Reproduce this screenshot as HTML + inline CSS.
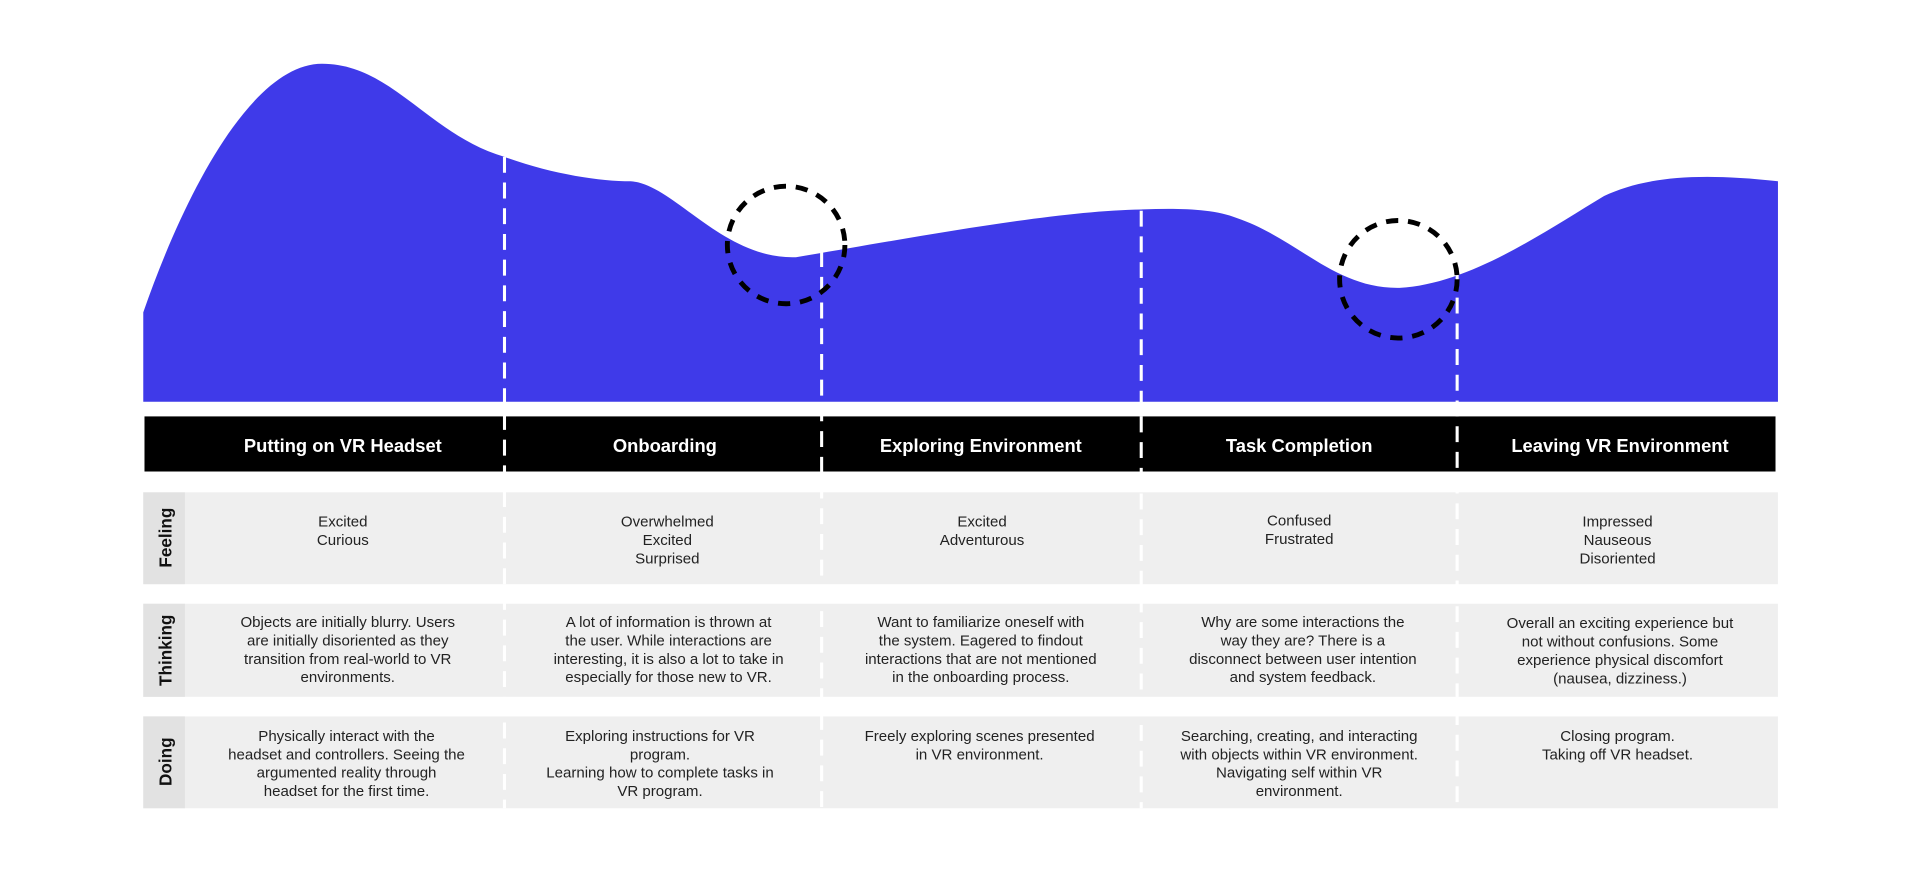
<!DOCTYPE html>
<html><head><meta charset="utf-8"><style>html,body{margin:0;padding:0;background:#fff;}svg{display:block}</style></head>
<body>
<svg width="1920" height="872" viewBox="0 0 1568 712" xmlns="http://www.w3.org/2000/svg" font-family="Liberation Sans, sans-serif">
<path d="M117,255 C150,160 205,52 263,52 C320,52 350,110 412,128 C450,142 490,148 515,148 C550,150 590,212 650,210 C740,195 860,172 932,171 C960,170 990,170 1010,178 C1060,195 1090,236 1143,235 C1200,232 1260,190 1310,160 C1340,146 1380,140 1452,148 L1452,328 L117,328 Z" fill="#3f3ae9"/>
<rect x="118" y="340" width="1332" height="45" fill="#000"/>
<g fill="#efefef">
<rect x="117" y="402" width="1335" height="75"/>
<rect x="117" y="493" width="1335" height="76"/>
<rect x="117" y="585" width="1335" height="75"/>
</g>
<g fill="#e2e2e2">
<rect x="117" y="402" width="34" height="75"/>
<rect x="117" y="493" width="34" height="76"/>
<rect x="117" y="585" width="34" height="75"/>
</g>
<g stroke="#fff" stroke-width="2.5" stroke-dasharray="13 8">
<line x1="412" y1="128" x2="412" y2="660"/>
<line x1="671" y1="205" x2="671" y2="660"/>
<line x1="932" y1="172" x2="932" y2="660"/>
<line x1="1190" y1="222" x2="1190" y2="660"/>
</g>
<g fill="none" stroke="#000" stroke-width="4" stroke-dasharray="10 8">
<circle cx="642" cy="200" r="48"/>
<circle cx="1142" cy="228" r="48"/>
</g>
<g fill="#fff" font-weight="bold" font-size="15" text-anchor="middle">
<text x="280" y="369">Putting on VR Headset</text>
<text x="543" y="369">Onboarding</text>
<text x="801" y="369">Exploring Environment</text>
<text x="1061" y="369">Task Completion</text>
<text x="1323" y="369">Leaving VR Environment</text>
</g>
<g fill="#111" font-weight="bold" font-size="14" text-anchor="middle">
<text transform="translate(140,439) rotate(-90)">Feeling</text>
<text transform="translate(140,531) rotate(-90)">Thinking</text>
<text transform="translate(140,622) rotate(-90)">Doing</text>
</g>
<g fill="#222" font-size="12.3" text-anchor="middle">
<text x="280" y="430">Excited</text><text x="280" y="445">Curious</text>
<text x="545" y="430">Overwhelmed</text><text x="545" y="445">Excited</text><text x="545" y="460">Surprised</text>
<text x="802" y="430">Excited</text><text x="802" y="445">Adventurous</text>
<text x="1061" y="429">Confused</text><text x="1061" y="444">Frustrated</text>
<text x="1321" y="430">Impressed</text><text x="1321" y="445">Nauseous</text><text x="1321" y="460">Disoriented</text>

<text x="284" y="512">Objects are initially blurry. Users</text>
<text x="284" y="527">are initially disoriented as they</text>
<text x="284" y="542">transition from real-world to VR</text>
<text x="284" y="557">environments.</text>
<text x="546" y="512">A lot of information is thrown at</text>
<text x="546" y="527">the user. While interactions are</text>
<text x="546" y="542">interesting, it is also a lot to take in</text>
<text x="546" y="557">especially for those new to VR.</text>
<text x="801" y="512">Want to familiarize oneself with</text>
<text x="801" y="527">the system. Eagered to findout</text>
<text x="801" y="542">interactions that are not mentioned</text>
<text x="801" y="557">in the onboarding process.</text>
<text x="1064" y="512">Why are some interactions the</text>
<text x="1064" y="527">way they are? There is a</text>
<text x="1064" y="542">disconnect between user intention</text>
<text x="1064" y="557">and system feedback.</text>
<text x="1323" y="513">Overall an exciting experience but</text>
<text x="1323" y="528">not without confusions. Some</text>
<text x="1323" y="543">experience physical discomfort</text>
<text x="1323" y="558">(nausea, dizziness.)</text>

<text x="283" y="605">Physically interact with the</text>
<text x="283" y="620">headset and controllers. Seeing the</text>
<text x="283" y="635">argumented reality through</text>
<text x="283" y="650">headset for the first time.</text>
<text x="539" y="605">Exploring instructions for VR</text>
<text x="539" y="620">program.</text>
<text x="539" y="635">Learning how to complete tasks in</text>
<text x="539" y="650">VR program.</text>
<text x="800" y="605">Freely exploring scenes presented</text>
<text x="800" y="620">in VR environment.</text>
<text x="1061" y="605">Searching, creating, and interacting</text>
<text x="1061" y="620">with objects within VR environment.</text>
<text x="1061" y="635">Navigating self within VR</text>
<text x="1061" y="650">environment.</text>
<text x="1321" y="605">Closing program.</text>
<text x="1321" y="620">Taking off VR headset.</text>
</g>
</svg>
</body></html>
